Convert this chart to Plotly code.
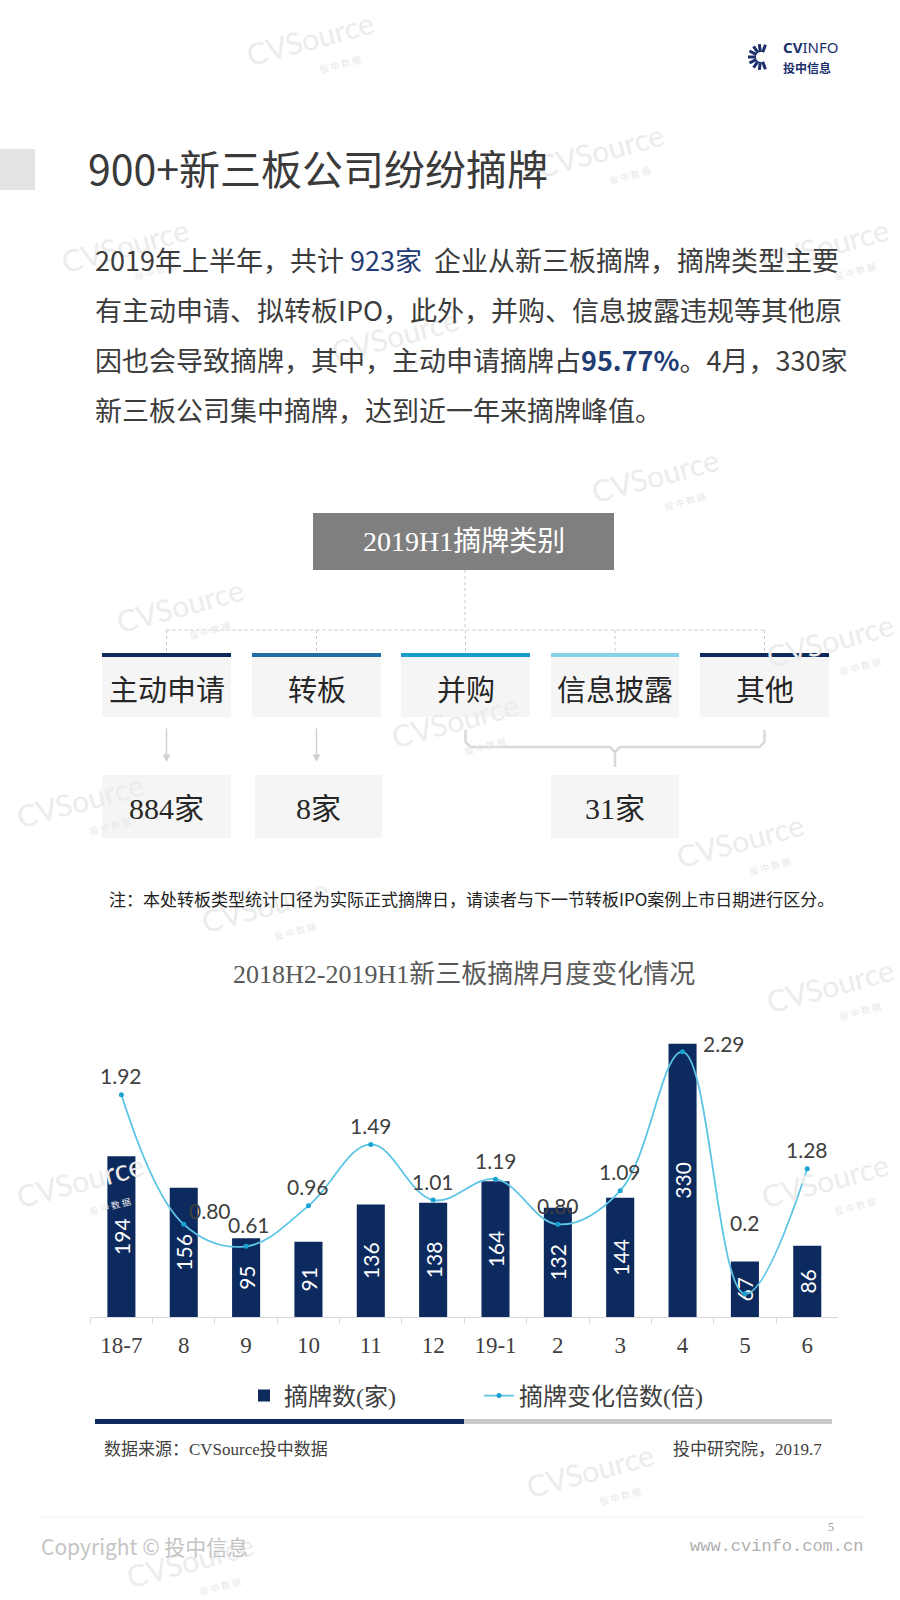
import math
import plotly.graph_objects as go

# ---------------- data ----------------
months = ["18-7", "8", "9", "10", "11", "12", "19-1", "2", "3", "4", "5", "6"]
delist_counts = [194, 156, 95, 91, 136, 138, 164, 132, 144, 330, 67, 86]
change_ratio = [1.92, 0.80, 0.61, 0.96, 1.49, 1.01, 1.19, 0.80, 1.09, 2.29, 0.2, 1.28]
ratio_labels = ["1.92", "0.80", "0.61", "0.96", "1.49", "1.01", "1.19", "0.80", "1.09", "2.29", "0.2", "1.28"]
# label offsets (pixels) from each point: (xshift, yshift)
ratio_label_shift = [(0, 19), (26, 14), (3, 22), (0, 19), (0, 19), (0, 19),
                     (0, 19), (0, 19), (0, 19), (41, 8), (0, 71), (0, 19)]

categories = ["主动申请", "转板", "并购", "信息披露", "其他"]
category_colors = ["#0e2a5c", "#1f6ea8", "#1a9ccb", "#86d0e8", "#0e2a5c"]
result_labels = ["884家", "8家", "31家"]

W, H = 900, 1600
NAVY = "#0c2a5e"
CJK = "Noto Sans CJK SC"
SERIF = "Liberation Serif, Noto Sans CJK SC"


def X(p):
    return p / W


def Y(p):
    return 1 - p / H


shapes = []
annotations = []


def rect(x0, y0, x1, y1, fill, line_color=None, lw=0):
    shapes.append(dict(type="rect", xref="paper", yref="paper",
                       x0=X(x0), x1=X(x1), y0=Y(y1), y1=Y(y0),
                       fillcolor=fill, line=dict(color=line_color or fill, width=lw), layer="below"))


def line(x0, y0, x1, y1, color, width=1, dash="solid"):
    shapes.append(dict(type="line", xref="paper", yref="paper",
                       x0=X(x0), x1=X(x1), y0=Y(y0), y1=Y(y1),
                       line=dict(color=color, width=width, dash=dash), layer="below"))


def text(x, y, s, size, color="#333333", family=CJK, xanchor="left", angle=0, align="left"):
    annotations.append(dict(xref="paper", yref="paper", x=X(x), y=Y(y), text=s, showarrow=False,
                            xanchor=xanchor, yanchor="middle", textangle=angle, align=align,
                            font=dict(size=size, color=color, family=family)))


# ---------------- watermarks ----------------
wm = [(310, 38), (600, 150), (125, 245), (825, 245), (395, 335), (655, 475), (180, 605),
      (455, 720), (80, 800), (740, 840), (265, 905), (830, 640), (830, 985), (80, 1180),
      (825, 1180), (590, 1470), (190, 1560)]
for (wx, wy) in wm:
    text(wx, wy, "CVSource", 30, "#ececec", "Lato", "center", -15)
    text(wx + 30, wy + 26, "投 中 数 据", 9, "#e8e8e8", CJK, "center", -15)

# ---------------- logo ----------------
cx, cy = 761, 57
for k in range(9):
    a = math.radians(70 + k * 27.5)
    line(cx + 5 * math.cos(a), cy - 5 * math.sin(a), cx + 13 * math.cos(a), cy - 13 * math.sin(a),
         "#1b2f6b", 3)
text(781, 57, "<b>CV</b>INFO<br><span style='font-size:12px'><b>投中信息</b></span>",
     15, "#1b2f6b", "Noto Sans, Noto Sans CJK SC", "left")

# ---------------- title ----------------
rect(0, 149, 35, 190, "#e3e3e3")
text(86, 167, "900+新三板公司纷纷摘牌", 41, "#3a3a3a", CJK)

# ---------------- paragraph ----------------
BLUE = "#1f3c74"
para = [
    "2019年上半年，共计 <span style='color:%s'>923家</span>  企业从新三板摘牌，摘牌类型主要" % BLUE,
    "有主动申请、拟转板IPO，此外，并购、信息披露违规等其他原",
    "因也会导致摘牌，其中，主动申请摘牌占<b><span style='color:%s'>95.77%%</span></b>。4月，330家" % BLUE,
    "新三板公司集中摘牌，达到近一年来摘牌峰值。",
]
for i, s in enumerate(para):
    text(93, [260, 310, 360, 410][i], s, 27, "#3c3c3c", CJK)

# ---------------- category diagram ----------------
rect(313, 513, 614, 570, "#7f7f7f")
text(463.5, 541, "2019H1摘牌类别", 28, "#ffffff", SERIF, "center")

box_x = [(102, 231), (252, 381), (401, 530), (551, 679), (700, 829)]
centers = [(a + b) / 2 for a, b in box_x]
line(465, 570, 465, 630, "#c8c8c8", 1, "dot")
line(centers[0], 630, centers[-1], 630, "#c8c8c8", 1, "dot")
for c in centers:
    line(c, 630, c, 653, "#c8c8c8", 1, "dot")
for (a, b), col, name in zip(box_x, category_colors, categories):
    rect(a, 654, b, 717, "#f5f5f5")
    rect(a, 653, b, 657, col)
    text((a + b) / 2, 688, name, 29, "#262626", CJK, "center")

# arrows
for c in centers[:2]:
    annotations.append(dict(xref="paper", yref="paper", x=X(c), y=Y(762), ax=0, ay=-35, text="",
                            showarrow=True, arrowhead=2, arrowsize=1, arrowwidth=1.5,
                            arrowcolor="#d0d0d0"))
# brace
bl, bm, br_ = centers[2], centers[3], centers[4]
pts = [(bl, 730), (bl, 742), (bl + 5, 747), (bm - 5, 747), (bm, 752), (bm, 767), (bm, 752),
       (bm + 5, 747), (br_ - 5, 747), (br_, 742), (br_, 730)]
path = "M " + " L ".join("%f,%f" % (X(px), Y(py)) for px, py in pts)
shapes.append(dict(type="path", xref="paper", yref="paper", path=path,
                   line=dict(color="#d9d9d9", width=2.5), layer="below"))

res_boxes = [(102, 231), (255, 382), (551, 679)]
for (a, b), s in zip(res_boxes, result_labels):
    rect(a, 775, b, 838, "#f5f5f5")
    text((a + b) / 2, 808, s, 30, "#262626", SERIF, "center")

text(107, 898, "注：本处转板类型统计口径为实际正式摘牌日，请读者与下一节转板IPO案例上市日期进行区分。",
     17, "#222222", CJK)

# ---------------- chart ----------------
text(464, 974, "2018H2-2019H1新三板摘牌月度变化情况", 26, "#595959", SERIF, "center")

BASE, TOP = 1317, 1030
PX_PER_COUNT = 0.828
PX_PER_RATIO = 115.8

fig = go.Figure()
fig.add_trace(go.Bar(
    x=months, y=delist_counts, name="摘牌数(家)", marker=dict(color=NAVY, line=dict(width=0)),
    text=[str(v) for v in delist_counts], textposition="inside", insidetextanchor="middle",
    textangle=-90, textfont=dict(color="#ffffff", size=21, family="Lato"),
    constraintext="none", yaxis="y", hoverinfo="skip"))
fig.add_trace(go.Scatter(
    x=months, y=change_ratio, name="摘牌变化倍数(倍)", mode="lines+markers",
    line=dict(color="#5cc5e5", width=1.8, shape="spline", smoothing=1.1),
    marker=dict(color="#1aa3d1", size=5),
    yaxis="y2", cliponaxis=False, hoverinfo="skip"))
for i, (lab, (dx, dy)) in enumerate(zip(ratio_labels, ratio_label_shift)):
    annotations.append(dict(xref="x", yref="y2", x=i, y=change_ratio[i], text=lab,
                            showarrow=False, xshift=dx, yshift=dy,
                            font=dict(color="#404040", size=21, family="Lato")))

# bottom decorations
rect(95, 1419, 464, 1424, NAVY)
rect(464, 1419, 832, 1424, "#c9c9c9")
text(102, 1449, "数据来源：CVSource投中数据", 17, "#404040", SERIF)
text(824, 1449, "投中研究院，2019.7", 17, "#404040", SERIF, "right")

line(39, 1517, 863, 1517, "#eeeeee", 1)
text(836, 1527, "5", 12, "#999999", SERIF, "right")
text(39, 1546, "Copyright © 投中信息", 21, "#c4c4c4", CJK)
text(865, 1546, "www.cvinfo.com.cn", 17, "#b0b0b0", "Liberation Mono", "right")

c0 = 121.4
step = 62.35
x_dom = [X(c0 - step / 2), X(c0 + 11.5 * step)]
y_dom = [Y(BASE), Y(TOP)]

fig.update_layout(
    width=W, height=H, margin=dict(l=0, r=0, t=0, b=0),
    paper_bgcolor="#ffffff", plot_bgcolor="rgba(0,0,0,0)",
    shapes=shapes, annotations=annotations, bargap=0.55,
    showlegend=True,
    legend=dict(orientation="h", x=X(244), xanchor="left", y=Y(1396), yanchor="middle",
                entrywidth=190, entrywidthmode="pixels",
                font=dict(size=24, color="#404040", family=SERIF), bgcolor="rgba(0,0,0,0)"),
    xaxis=dict(domain=x_dom, type="category", range=[-0.5, 11.5], autorange=False,
               showgrid=False, zeroline=False,
               showline=True, linecolor="#d9d9d9", linewidth=1,
               ticks="outside", tickson="boundaries", ticklen=6, tickcolor="#d9d9d9",
               ticklabelstandoff=7,
               tickfont=dict(size=23, color="#404040", family="Liberation Serif"),
               fixedrange=True),
    yaxis=dict(domain=y_dom, range=[0, (BASE - TOP) / PX_PER_COUNT], visible=False, fixedrange=True),
    yaxis2=dict(overlaying="y", side="right", range=[0, (BASE - TOP) / PX_PER_RATIO],
                visible=False, fixedrange=True),
)

fig.write_html("out.html", config={"displayModeBar": False},
               post_script="document.body.style.margin='0px';document.body.style.padding='0px';")
